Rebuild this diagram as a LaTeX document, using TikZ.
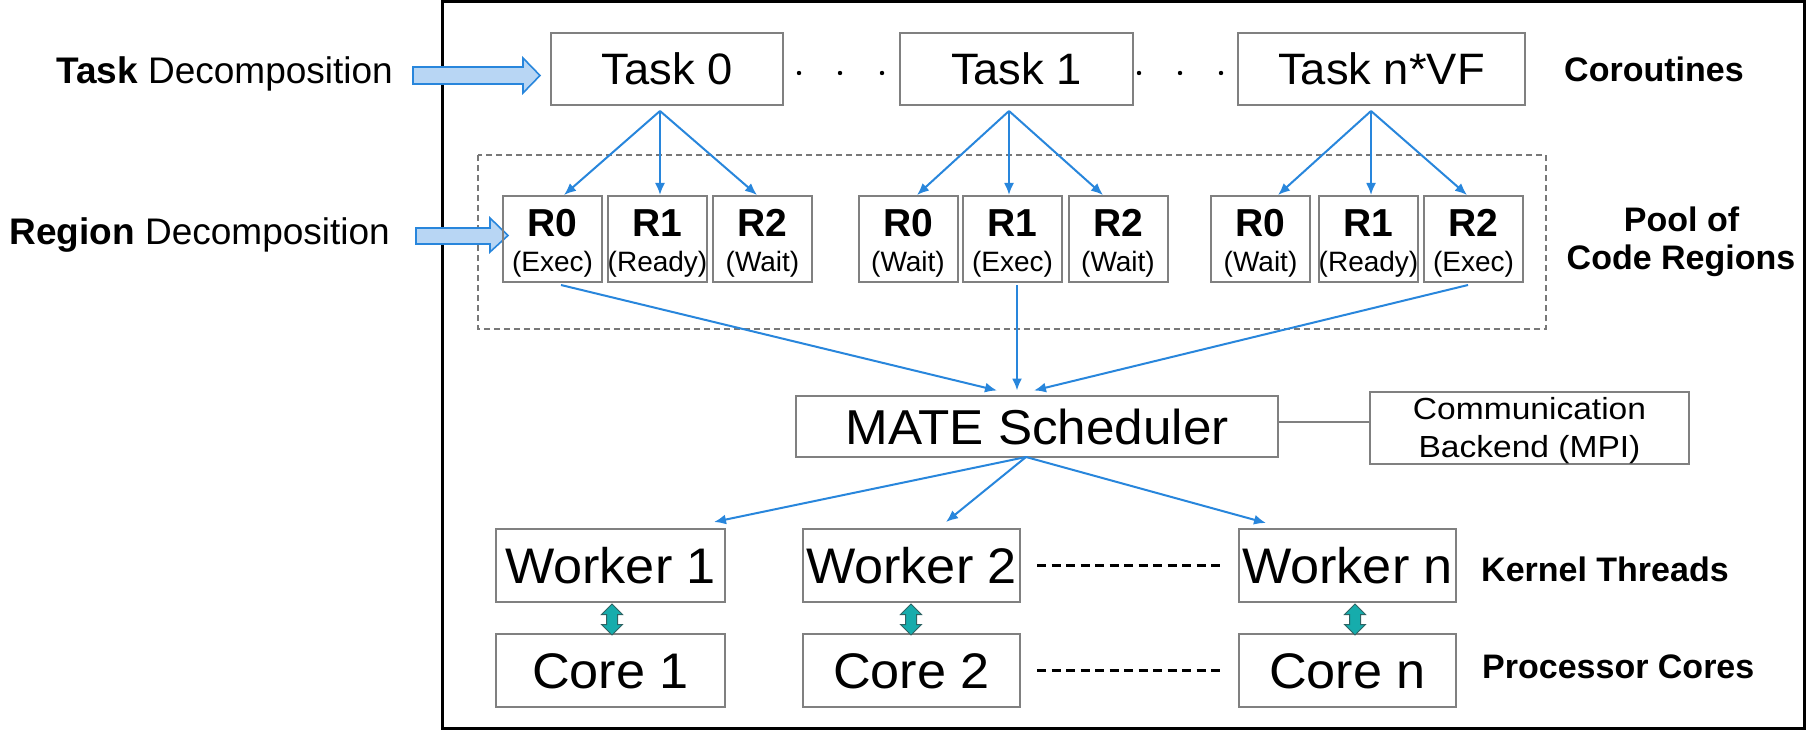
\documentclass[tikz,border=0pt]{standalone}
\usepackage{fontspec}
\setmainfont{Liberation Sans}
\newfontfamily\taskfont[FakeStretch=1.03]{Liberation Sans}
\newfontfamily\boxfont[FakeStretch=1.045]{Liberation Sans}
\newfontfamily\commfont[FakeStretch=1.1]{Liberation Sans}
\usetikzlibrary{calc,arrows.meta}

\definecolor{linkblue}{RGB}{40,134,220}
\definecolor{blockfill}{RGB}{184,214,244}
\definecolor{boxgray}{RGB}{128,128,128}
\definecolor{poolgray}{RGB}{120,120,120}
\definecolor{tealfill}{RGB}{22,172,172}
\definecolor{tealedge}{RGB}{45,100,100}

\newcommand\fsz[1]{\fontsize{#1}{#1}\selectfont}
% one code region: node name, x centre, region name, state
\newcommand\regionbox[4]{%
  \node[rbox] (#1) at (#2,239) {};
  \node[rname] at ($(#1.north)+(0,41)$) {#3};
  \node[rstate] at ($(#1.north)+(0,76)$) {#4};}

\begin{document}
\begin{tikzpicture}[x=1pt,y=-1pt,
  box/.style={draw=boxgray,line width=2pt,rectangle,inner sep=0pt},
  taskbox/.style={box,minimum height=72pt,font=\taskfont\fsz{44},text height=31.5pt,text depth=0pt},
  rbox/.style={box,minimum width=99pt,minimum height=86pt},
  rname/.style={anchor=base,inner sep=0pt,font=\fsz{39}\bfseries},
  rstate/.style={anchor=base,inner sep=0pt,font=\fsz{28}},
  workbox/.style={box,minimum height=73pt,font=\boxfont\fsz{50},text height=36pt,text depth=0pt},
  link/.style={draw=linkblue,line width=2pt,-{Latex[length=12pt,width=10pt]}},
  plain/.style={draw=boxgray,line width=2pt},
  blockarrow/.style={draw=linkblue,line width=1.6pt,fill=blockfill,line join=miter},
  sidelabel/.style={inner sep=0pt,font=\fsz{37}},
  commtext/.style={anchor=base,inner sep=0pt,font=\commfont\fsz{30.5}},
  layerlabel/.style={inner sep=0pt,font=\fsz{34}\bfseries},
  dotline/.style={draw=black,line width=3pt,dash pattern=on 9pt off 5.5pt},
  taskdot/.style={fill=black},
  bidir/.pic={\draw[line width=1pt,draw=tealedge,fill=tealfill,line join=miter]
      (0,-15.5) -- (10.5,-5) -- (5.5,-5) -- (5.5,5) -- (10.5,5) -- (0,15.5)
      -- (-10.5,5) -- (-5.5,5) -- (-5.5,-5) -- (-10.5,-5) -- cycle;}
]
\useasboundingbox (0,0) rectangle (1806,730);
\fill[white] (0,0) rectangle (1806,730);

% outer frame and the pool of code regions
\draw[line width=3pt] (442,1.5) rectangle (1804.5,728.5);
\draw[draw=poolgray,line width=1.5pt,dash pattern=on 6pt off 4pt] (478,155) rectangle (1546,329);

% left-hand labels with their block arrows
\node[sidelabel,anchor=base east] (tdlabel) at (393,84) {\textbf{Task} Decomposition};
\node[sidelabel,anchor=base east] (rdlabel) at (390,244) {\textbf{Region} Decomposition};
\path[blockarrow] (413,67) -- (523,67) -- (523,58) -- (540,75.5) -- (523,93) -- (523,84) -- (413,84) -- cycle;
\path[blockarrow] (416,228) -- (490,228) -- (490,218) -- (508,235.5) -- (490,252) -- (490,244) -- (416,244) -- cycle;

% coroutines
\node[taskbox,minimum width=232pt] (t0) at (667,69) {Task 0};
\node[taskbox,minimum width=233pt] (t1) at (1016.5,69) {Task 1};
\node[taskbox,minimum width=287pt] (tn) at (1381.5,69) {Task n*VF};
\foreach \dx in {15,56,98} \fill[taskdot] ($(t0.east)+(\dx,4)$) circle (2.2);
\foreach \dx in {5,46,87} \fill[taskdot] ($(t1.east)+(\dx,4)$) circle (2.2);

% code regions
\regionbox{r10}{552.5}{R0}{(Exec)}
\regionbox{r11}{657.5}{R1}{(Ready)}
\regionbox{r12}{762.5}{R2}{(Wait)}
\regionbox{r20}{908}{R0}{(Wait)}
\regionbox{r21}{1012.5}{R1}{(Exec)}
\regionbox{r22}{1118}{R2}{(Wait)}
\regionbox{r30}{1260.5}{R0}{(Wait)}
\regionbox{r31}{1368.5}{R1}{(Ready)}
\regionbox{r32}{1473.5}{R2}{(Exec)}

% task -> region fan-out
\coordinate (t0o) at ($(t0.south)+(-7,5)$);
\coordinate (t1o) at ($(t1.south)+(-7.5,5)$);
\coordinate (tno) at ($(tn.south)+(-10.5,5)$);
\draw[link] (t0o) -- ($(r10.north)+(11.5,0)$);
\draw[link] (t0o) -- ($(r11.north)+(2.5,0)$);
\draw[link] (t0o) -- ($(r12.north)+(-5.5,0)$);
\draw[link] (t1o) -- ($(r20.north)+(9,0)$);
\draw[link] (t1o) -- ($(r21.north)+(-3.5,0)$);
\draw[link] (t1o) -- ($(r22.north)+(-15,0)$);
\draw[link] (tno) -- ($(r30.north)+(17.5,0)$);
\draw[link] (tno) -- ($(r31.north)+(2.5,0)$);
\draw[link] (tno) -- ($(r32.north)+(-6.5,0)$);

% scheduler and communication backend
\node[box,minimum width=482pt,minimum height=61pt,font=\boxfont\fsz{49},text height=35pt,text depth=0pt]
  (sched) at (1037,426.5) {MATE Scheduler};
\node[box,minimum width=319pt,minimum height=72pt] (comm) at (1529.5,428) {};
\node[commtext] at ($(comm.north)+(0,28)$) {Communication};
\node[commtext] at ($(comm.north)+(0,66)$) {Backend (MPI)};
\draw[plain] ($(sched.east)+(0,-4.5)$) coordinate (sc) -- (sc -| comm.west);

% regions -> scheduler
\draw[link] ($(r10.south)+(8.5,2)$) -- ($(sched.north)+(-40,-4.5)$);
\draw[link] ($(r21.south)+(4.5,2)$) -- ($(sched.north)+(-20,-4.5)$);
\draw[link] ($(r32.south)+(-5.5,2)$) -- ($(sched.north)+(-3,-4.5)$);

% kernel threads and processor cores
\node[workbox,minimum width=229pt] (w1) at (610.5,565.5) {Worker 1};
\node[workbox,minimum width=217pt] (w2) at (911.5,565.5) {Worker 2};
\node[workbox,minimum width=217pt] (wn) at (1347.5,565.5) {Worker n};
\node[workbox,minimum width=229pt] (c1) at (610.5,670.5) {Core 1};
\node[workbox,minimum width=217pt] (c2) at (911.5,670.5) {Core 2};
\node[workbox,minimum width=217pt] (cn) at (1347.5,670.5) {Core n};
\draw[dotline] ($(w2.east)+(16,0)$) -- ($(wn.west)+(-16,0)$);
\draw[dotline] ($(c2.east)+(16,0)$) -- ($(cn.west)+(-16,0)$);

% scheduler -> workers
\coordinate (so) at ($(sched.south)+(-11,-1)$);
\draw[link] (so) -- ($(w1.north)+(103.5,-6)$);
\draw[link] (so) -- ($(w2.north)+(34.5,-6)$);
\draw[link] (so) -- ($(wn.north)+(-81.5,-5)$);

% worker <-> core bindings
\pic at ($(w1.south)+(1.5,16.5)$) {bidir};
\pic at ($(w2.south)+(-0.5,16.5)$) {bidir};
\pic at ($(wn.south)+(7.5,16.5)$) {bidir};

% layer names
\node[layerlabel,anchor=base west] at (1564,82) {Coroutines};
\node[layerlabel,anchor=base] at (1681.5,231) {Pool of};
\node[layerlabel,anchor=base] at (1681,269) {Code Regions};
\node[layerlabel,anchor=base west] at (1481,581) {Kernel Threads};
\node[layerlabel,anchor=base west] at (1482,678) {Processor Cores};
\end{tikzpicture}
\end{document}
